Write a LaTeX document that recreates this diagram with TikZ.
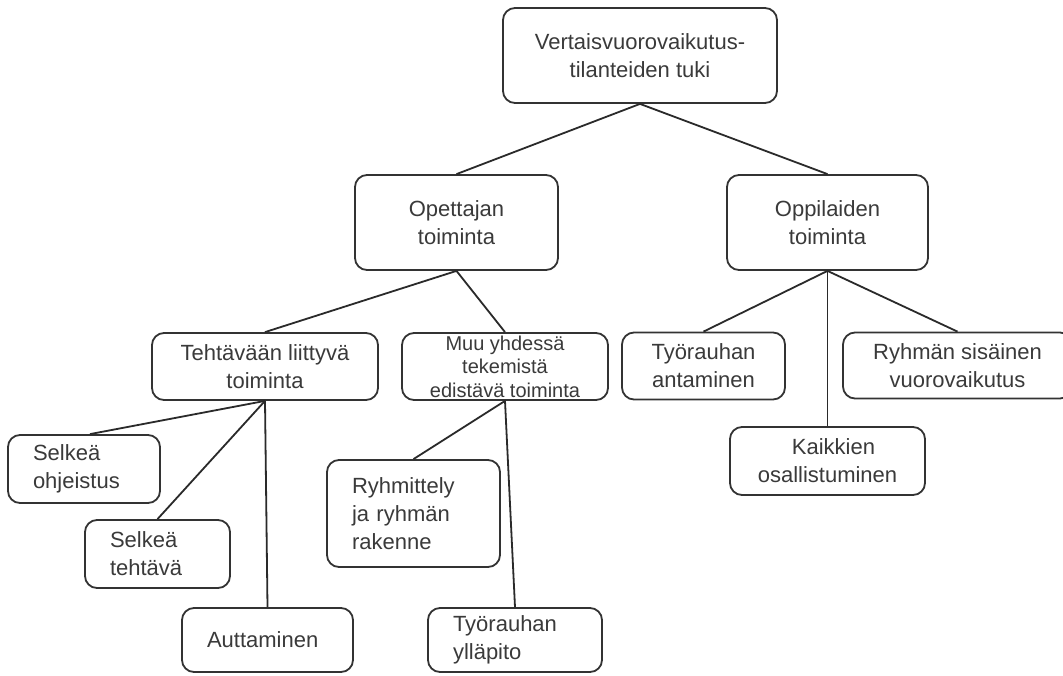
\documentclass[tikz,border=0pt]{standalone}
\usepackage{fontspec}
\setmainfont{Liberation Sans}
\definecolor{boxgray}{HTML}{333333}
\definecolor{textgray}{HTML}{3A3A3A}
\definecolor{linegray}{HTML}{2A2A2A}
\tikzset{
  box/.style={draw=boxgray, line width=1.8pt, rounded corners=12pt, fill=white,
    text=textgray, inner sep=0pt, align=center,
    font=\fontsize{22}{28}\selectfont},
  lbox/.style={box, align=left, inner xsep=25pt, text width=#1},
  conn/.style={draw=linegray, line width=1.8pt}
}
\begin{document}
\begin{tikzpicture}[x=1pt,y=-1pt]
\clip (0,0) rectangle (1063,675);
\fill[white] (0,0) rectangle (1063,675);

% level 0
\node[box, minimum width=274pt, minimum height=95pt] (root) at (640,55.5)
  {Vertaisvuorovaikutus-\\tilanteiden tuki};

% level 1
\node[box, minimum width=203pt, minimum height=95pt] (opett) at (456.5,222.5)
  {Opettajan\\toiminta};
\node[box, minimum width=201pt, minimum height=95pt] (oppil) at (827.5,222.5)
  {Oppilaiden\\toiminta};

% level 2 (teacher)
\node[box, minimum width=226pt, minimum height=67pt] (teht) at (265,366.5)
  {Tehtävään liittyvä\\toiminta};
\node[box, minimum width=206pt, minimum height=67pt,
  font=\fontsize{20}{23.5}\selectfont] (muu) at (505,366.5)
  {Muu yhdessä\\tekemistä\\edistävä toiminta};

% level 2 (students)
\node[box, minimum width=163pt, minimum height=67pt] (tyran) at (703.5,366)
  {Työrauhan\\antaminen};
\node[box, minimum width=229pt, minimum height=66pt] (ryhmsis) at (957.5,365.5)
  {Ryhmän sisäinen\\vuorovaikutus};
\node[box, minimum width=195pt, minimum height=68pt] (kaikk) at (827.5,461)
  {\hspace*{12pt}Kaikkien\\osallistuminen};

% level 3 (task related)
\node[lbox=102pt, minimum width=152pt, minimum height=68pt] (selko) at (84,469)
  {Selkeä\\ohjeistus};
\node[lbox=95pt, minimum width=145pt, minimum height=68pt] (selkt) at (157.5,554)
  {Selkeä\\tehtävä};
\node[lbox=121pt, minimum width=171pt, minimum height=64pt] (autt) at (267.5,640)
  {Auttaminen};

% level 3 (other)
\node[lbox=123pt, minimum width=173pt, minimum height=107pt] (ryhmit) at (413.5,513.5)
  {Ryhmittely\\ja ryhmän\\rakenne};
\node[lbox=124pt, minimum width=174pt, minimum height=64pt] (tyyll) at (515,640)
  {Työrauhan\\ylläpito};

% connectors
\draw[conn] (root.south) -- (opett.north);
\draw[conn] (root.south) -- (oppil.north);
\draw[conn] (opett.south) -- (teht.north);
\draw[conn] (opett.south) -- (muu.north);
\draw[conn] (teht.south) -- ([xshift=6pt]selko.north);
\draw[conn] (teht.south) -- (selkt.north);
\draw[conn] (teht.south) -- (autt.north);
\draw[conn] (muu.south) -- (ryhmit.north);
\draw[conn] (muu.south) -- (tyyll.north);
\draw[conn] (oppil.south) -- (tyran.north);
\draw[conn] (oppil.south) -- (ryhmsis.north);
\draw[conn] (oppil.south) -- (kaikk.north);
\end{tikzpicture}
\end{document}
